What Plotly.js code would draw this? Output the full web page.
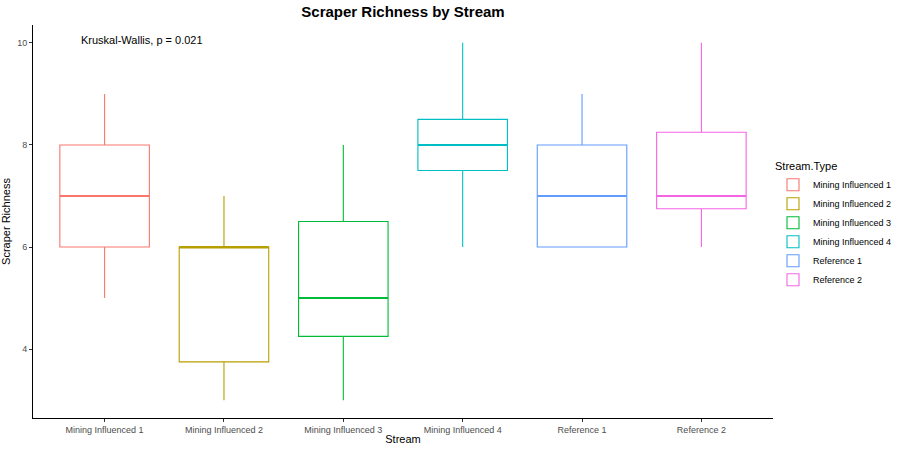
<!DOCTYPE html>
<html>
<head>
<meta charset="utf-8">
<script src="https://cdn.plot.ly/plotly-3.0.1.min.js"></script>
<style>html,body{margin:0;padding:0;background:#fff}#chart{width:900px;height:450px}</style>
</head>
<body>
<div id="chart"></div>
<script>
const streams = ["Mining Influenced 1","Mining Influenced 2","Mining Influenced 3","Mining Influenced 4","Reference 1","Reference 2"];
const lowerWhisker = [5, 3, 3, 6, 6, 6];
const q1Values     = [6, 3.75, 4.25, 7.5, 6, 6.75];
const medianValues = [7, 6, 5, 8, 7, 7];
const q3Values     = [8, 6, 6.5, 8.5, 8, 8.25];
const upperWhisker = [9, 7, 8, 10, 9, 10];
const colors = ["#F8766D","#B79F00","#00BA38","#00BFC4","#619CFF","#F564E3"];
const annotationText = "Kruskal-Wallis, p = 0.021";
const yTicks = [4, 6, 8, 10];

const traces = [];
streams.forEach((s, i) => {
  traces.push({
    type: 'box', name: s, x: [s],
    q1: [q1Values[i]], median: [medianValues[i]], q3: [q3Values[i]],
    lowerfence: [lowerWhisker[i]], upperfence: [upperWhisker[i]],
    width: 0.75, whiskerwidth: 0, boxpoints: false,
    fillcolor: 'rgba(255,255,255,0)',
    line: {color: colors[i], width: 1.1},
    hoverinfo: 'skip', legendgroup: s
  });
});
// thicker median lines
streams.forEach((s, i) => {
  traces.push({
    type: 'box', name: s, x: [s],
    q1: [medianValues[i]], median: [medianValues[i]], q3: [medianValues[i]],
    lowerfence: [medianValues[i]], upperfence: [medianValues[i]],
    width: 0.75, whiskerwidth: 0, boxpoints: false,
    fillcolor: 'rgba(255,255,255,0)',
    line: {color: colors[i], width: 2},
    hoverinfo: 'skip', showlegend: false, legendgroup: s
  });
});

const layout = {
  width: 900, height: 450,
  margin: {l: 33, r: 127, t: 25, b: 32, autoexpand: false},
  paper_bgcolor: '#fff', plot_bgcolor: '#fff',
  font: {family: 'Liberation Sans, Arial, sans-serif', color: '#000'},
  title: {text: '<b>Scraper Richness by Stream</b>', x: 0.5, xref: 'paper', y: 0.975, yanchor: 'middle', font: {size: 15, color: '#000'}},
  boxmode: 'overlay',
  showlegend: true,
  legend: {
    title: {text: 'Stream.Type', font: {size: 11, color: '#000'}},
    x: 1.0, xanchor: 'left', xref: 'paper', y: 0.49, yanchor: 'middle',
    font: {size: 9, color: '#000'}, tracegroupgap: 0, itemwidth: 30,
    bgcolor: 'rgba(0,0,0,0)'
  },
  xaxis: {
    type: 'category', categoryorder: 'array', categoryarray: streams,
    range: [-0.6, 5.6], showgrid: false, zeroline: false,
    showline: true, linecolor: '#000', linewidth: 1,
    ticks: 'outside', ticklen: 3, tickcolor: '#333', tickwidth: 1,
    tickfont: {size: 9, color: '#4D4D4D'},
    title: {text: 'Stream', font: {size: 11, color: '#000'}, standoff: 1}
  },
  yaxis: {
    range: [2.65, 10.35], tickvals: yTicks, showgrid: false, zeroline: false,
    showline: true, linecolor: '#000', linewidth: 1,
    ticks: 'outside', ticklen: 3, tickcolor: '#333', tickwidth: 1,
    tickfont: {size: 9, color: '#4D4D4D'},
    title: {text: 'Scraper Richness', font: {size: 11, color: '#000'}, standoff: 4}
  },
  annotations: [{
    text: annotationText, xref: 'x', yref: 'y', x: -0.215, y: 10,
    xanchor: 'left', yanchor: 'middle', showarrow: false, yshift: 3,
    font: {size: 11, color: '#000'}
  }]
};
Plotly.newPlot('chart', traces, layout, {displayModeBar: false, staticPlot: true});
</script>
</body>
</html>
